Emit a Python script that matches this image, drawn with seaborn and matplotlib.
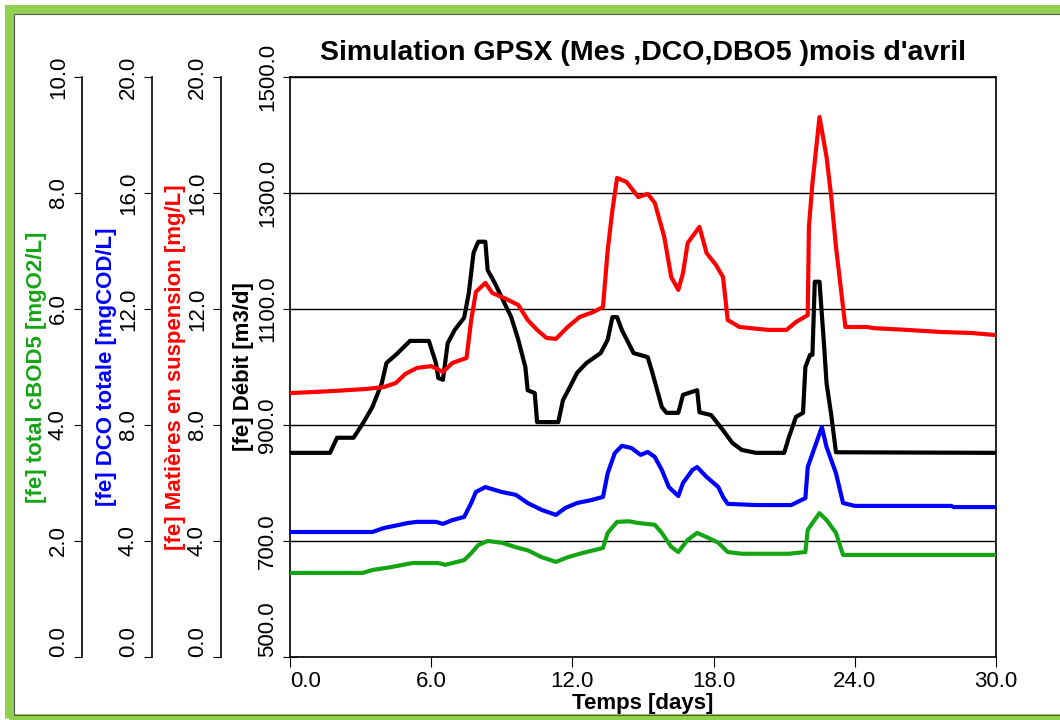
import matplotlib
matplotlib.use("Agg")
import matplotlib.pyplot as plt
from matplotlib.patches import Rectangle
import seaborn as sns

# =====================================================
# DATA
# =====================================================

# Débit [m3/d] - black
debit_t = [0, 1.7, 2.0, 2.7, 3.1, 3.5, 3.9, 4.1, 4.5, 4.8, 5.1, 5.9, 6.2, 6.3, 6.5,
           6.7, 7.0, 7.4, 7.6, 7.8, 8.0, 8.3, 8.4, 8.7, 8.9, 9.4, 9.7, 10.0, 10.1,
           10.4, 10.5, 11.4, 11.6, 11.9, 12.2, 12.6, 13.2, 13.5, 13.7, 13.9, 14.1,
           14.6, 15.2, 15.4, 15.8, 16.0, 16.5, 16.7, 17.3, 17.4, 17.9, 18.4, 18.8,
           19.2, 19.8, 21.0, 21.2, 21.5, 21.8, 21.9, 22.1, 22.2, 22.3, 22.5, 22.7,
           22.8, 23.0, 23.2, 30.0]
debit_q = [852, 852, 878, 878, 903, 931, 972, 1007, 1021, 1033, 1045, 1045, 1007, 981,
           978, 1041, 1064, 1085, 1128, 1197, 1216, 1216, 1167, 1145, 1128, 1086, 1047,
           1000, 960, 955, 905, 905, 943, 966, 990, 1007, 1024, 1047, 1086, 1086, 1064,
           1024, 1017, 990, 931, 921, 921, 952, 960, 922, 917, 891, 869, 857, 852, 852,
           879, 914, 921, 1000, 1021, 1021, 1147, 1147, 1034, 972, 917, 853, 852]

# Matières en suspension [mg/L] - red
mes_t = [0, 1.8, 3.2, 4.0, 4.5, 4.9, 5.4, 6.0, 6.5, 6.9, 7.5, 7.7, 7.9, 8.3, 8.6, 9.1,
         9.7, 10.1, 10.5, 10.9, 11.3, 11.8, 12.3, 12.9, 13.3, 13.5, 13.7, 13.9, 14.3,
         14.8, 15.2, 15.5, 15.9, 16.2, 16.5, 16.7, 16.9, 17.4, 17.7, 18.1, 18.4, 18.6,
         19.1, 20.3, 21.1, 21.5, 22.0, 22.05, 22.2, 22.5, 22.8, 23.0, 23.2, 23.6, 24.5,
         24.8, 26.2, 27.6, 29.0, 30.0]
mes_c = [9.10, 9.17, 9.24, 9.31, 9.45, 9.76, 9.97, 10.03, 9.83, 10.14, 10.31, 11.62,
         12.59, 12.9, 12.55, 12.38, 12.14, 11.62, 11.28, 11.0, 10.97, 11.38, 11.72,
         11.9, 12.07, 14.03, 15.41, 16.52, 16.38, 15.86, 15.97, 15.66, 14.5, 13.1,
         12.66, 13.24, 14.28, 14.83, 13.93, 13.52, 13.1, 11.62, 11.38, 11.28, 11.28,
         11.55, 11.79, 14.83, 16.34, 18.62, 17.24, 15.86, 14.14, 11.38, 11.38, 11.34,
         11.28, 11.21, 11.17, 11.1]

# DCO totale [mgCOD/L] - blue
dco_t = [0, 3.5, 4.0, 4.6, 5.0, 5.4, 6.2, 6.5, 6.9, 7.4, 7.7, 7.9, 8.3, 9.0, 9.6, 10.1,
         10.7, 11.3, 11.7, 12.2, 12.8, 13.3, 13.5, 13.8, 14.1, 14.5, 14.9, 15.2, 15.5,
         15.8, 16.1, 16.5, 16.7, 17.1, 17.3, 17.7, 18.2, 18.4, 18.6, 19.8, 21.3, 21.9,
         22.0, 22.3, 22.6, 22.8, 23.2, 23.5, 24.0, 28.1, 28.2, 30.0]
dco_c = [4.31, 4.31, 4.45, 4.55, 4.62, 4.66, 4.66, 4.59, 4.72, 4.83, 5.31, 5.69, 5.86,
         5.69, 5.59, 5.31, 5.07, 4.9, 5.14, 5.31, 5.41, 5.52, 6.34, 7.03, 7.28, 7.21,
         6.97, 7.07, 6.9, 6.45, 5.86, 5.55, 6.0, 6.45, 6.55, 6.21, 5.86, 5.52, 5.28,
         5.24, 5.24, 5.48, 6.55, 7.24, 7.93, 7.24, 6.34, 5.31, 5.21, 5.21, 5.17, 5.17]

# total cBOD5 [mgO2/L] - green
dbo_t = [0, 3.1, 3.5, 4.3, 5.2, 6.3, 6.6, 7.4, 7.7, 8.0, 8.4, 9.0, 9.7, 10.1, 10.7,
         11.3, 11.8, 12.4, 13.3, 13.5, 13.9, 14.4, 14.8, 15.5, 15.8, 16.2, 16.5, 16.9,
         17.3, 17.8, 18.2, 18.6, 19.2, 21.2, 21.9, 22.0, 22.2, 22.5, 22.8, 23.2, 23.5,
         30.0]
dbo_c = [1.45, 1.45, 1.5, 1.55, 1.62, 1.62, 1.59, 1.67, 1.79, 1.93, 2.0, 1.97, 1.88,
         1.84, 1.72, 1.64, 1.72, 1.79, 1.88, 2.14, 2.33, 2.34, 2.31, 2.28, 2.14, 1.9,
         1.81, 2.02, 2.14, 2.05, 1.97, 1.81, 1.78, 1.78, 1.81, 2.19, 2.31, 2.48, 2.36,
         2.14, 1.76, 1.76]

x_ticks = [0, 6, 12, 18, 24, 30]
debit_ticks = [500, 700, 900, 1100, 1300, 1500]
dbo_ticks = [0, 2, 4, 6, 8, 10]
conc_ticks = [0, 4, 8, 12, 16, 20]

GREEN = "#14a514"
BLUE = "#0000ff"
RED = "#ff0000"

# =====================================================
# STYLE
# =====================================================

sns.set_style("ticks", {
    "axes.edgecolor": "black",
    "xtick.color": "black",
    "ytick.color": "black",
    "text.color": "black",
    "axes.labelcolor": "black",
})
plt.rcParams["font.family"] = ["Liberation Sans", "DejaVu Sans"]

fig = plt.figure(figsize=(10.6, 7.2), dpi=100)
ax = fig.add_axes([290 / 1060, 63 / 720, 706 / 1060, 580 / 720])

# =====================================================
# MAIN AXIS : DEBIT
# =====================================================

sns.lineplot(x=debit_t, y=debit_q, ax=ax, color="black", linewidth=3)
ax.set_xlim(0, 30)
ax.set_ylim(500, 1500)
ax.set_xticks(x_ticks)
ax.set_xticklabels([f"{v:.1f}" for v in x_ticks])
ax.set_yticks(debit_ticks)
ax.set_yticklabels([f"{v:.1f}" for v in debit_ticks], rotation=90, va="center")
ax.grid(axis="y", color="black", linewidth=1)
ax.tick_params(axis="y", direction="inout", length=10, labelsize=16)
ax.tick_params(axis="x", direction="out", length=7, labelsize=16, pad=3)
ax.get_yticklabels()[0].set_va("bottom")
ax.get_xticklabels()[0].set_ha("left")
for s in ax.spines.values():
    s.set_linewidth(1.2)

ax.set_xlabel("Temps [days]", fontsize=16, fontweight="bold", labelpad=1)
ax.set_ylabel("[fe] Débit [m3/d]", fontsize=16, fontweight="bold", va="center")
ax.yaxis.set_label_coords((244 - 290) / 706, 0.5)
ax.set_title("Simulation GPSX (Mes ,DCO,DBO5 )mois d'avril",
             fontsize=20.5, fontweight="bold", pad=12)

# =====================================================
# EXTRA AXES ON THE LEFT
# =====================================================

def left_axis(offset_px, lim, ticks, label, color, label_px):
    tw = ax.twinx()
    tw.set_ylim(*lim)
    tw.yaxis.tick_left()
    tw.yaxis.set_label_position("left")
    tw.spines["left"].set_position(("axes", (offset_px - 290) / 706))
    tw.spines["left"].set_linewidth(1.2)
    for k in ["right", "top", "bottom"]:
        tw.spines[k].set_visible(False)
    tw.set_yticks(ticks)
    tw.set_yticklabels([f"{v:.1f}" for v in ticks], rotation=90, va="center")
    tw.get_yticklabels()[0].set_va("bottom")
    tw.tick_params(axis="y", direction="out", length=6, labelsize=16)
    tw.set_ylabel(label, fontsize=16, fontweight="bold", color=color, va="center")
    tw.yaxis.set_label_coords((label_px - 290) / 706, 0.5)
    return tw

ax_dbo = left_axis(82, (0, 10), dbo_ticks, "[fe] total cBOD5 [mgO2/L]", GREEN, 37)
ax_dco = left_axis(152, (0, 20), conc_ticks, "[fe] DCO totale [mgCOD/L]", BLUE, 107)
ax_mes = left_axis(221, (0, 20), conc_ticks, "[fe] Matières en suspension [mg/L]", RED, 175)

sns.lineplot(x=dbo_t, y=dbo_c, ax=ax_dbo, color=GREEN, linewidth=3)
sns.lineplot(x=dco_t, y=dco_c, ax=ax_dco, color=BLUE, linewidth=3)
sns.lineplot(x=mes_t, y=mes_c, ax=ax_mes, color=RED, linewidth=3)
for tw in [ax_dbo, ax_dco, ax_mes]:
    tw.set_xlim(0, 30)

# =====================================================
# GREEN FRAME AROUND THE FIGURE
# =====================================================

fig.patches.append(Rectangle((8.5 / 1060, 2 / 720), 1.1, 709 / 720,
                             transform=fig.transFigure, fill=False,
                             edgecolor="#92d050", linewidth=6.5))
fig.patches.append(Rectangle((13.5 / 1060, 5 / 720), 1.1, 701 / 720,
                             transform=fig.transFigure, fill=False,
                             edgecolor="#555555", linewidth=0.8))

fig.savefig("out.png", dpi=100)
